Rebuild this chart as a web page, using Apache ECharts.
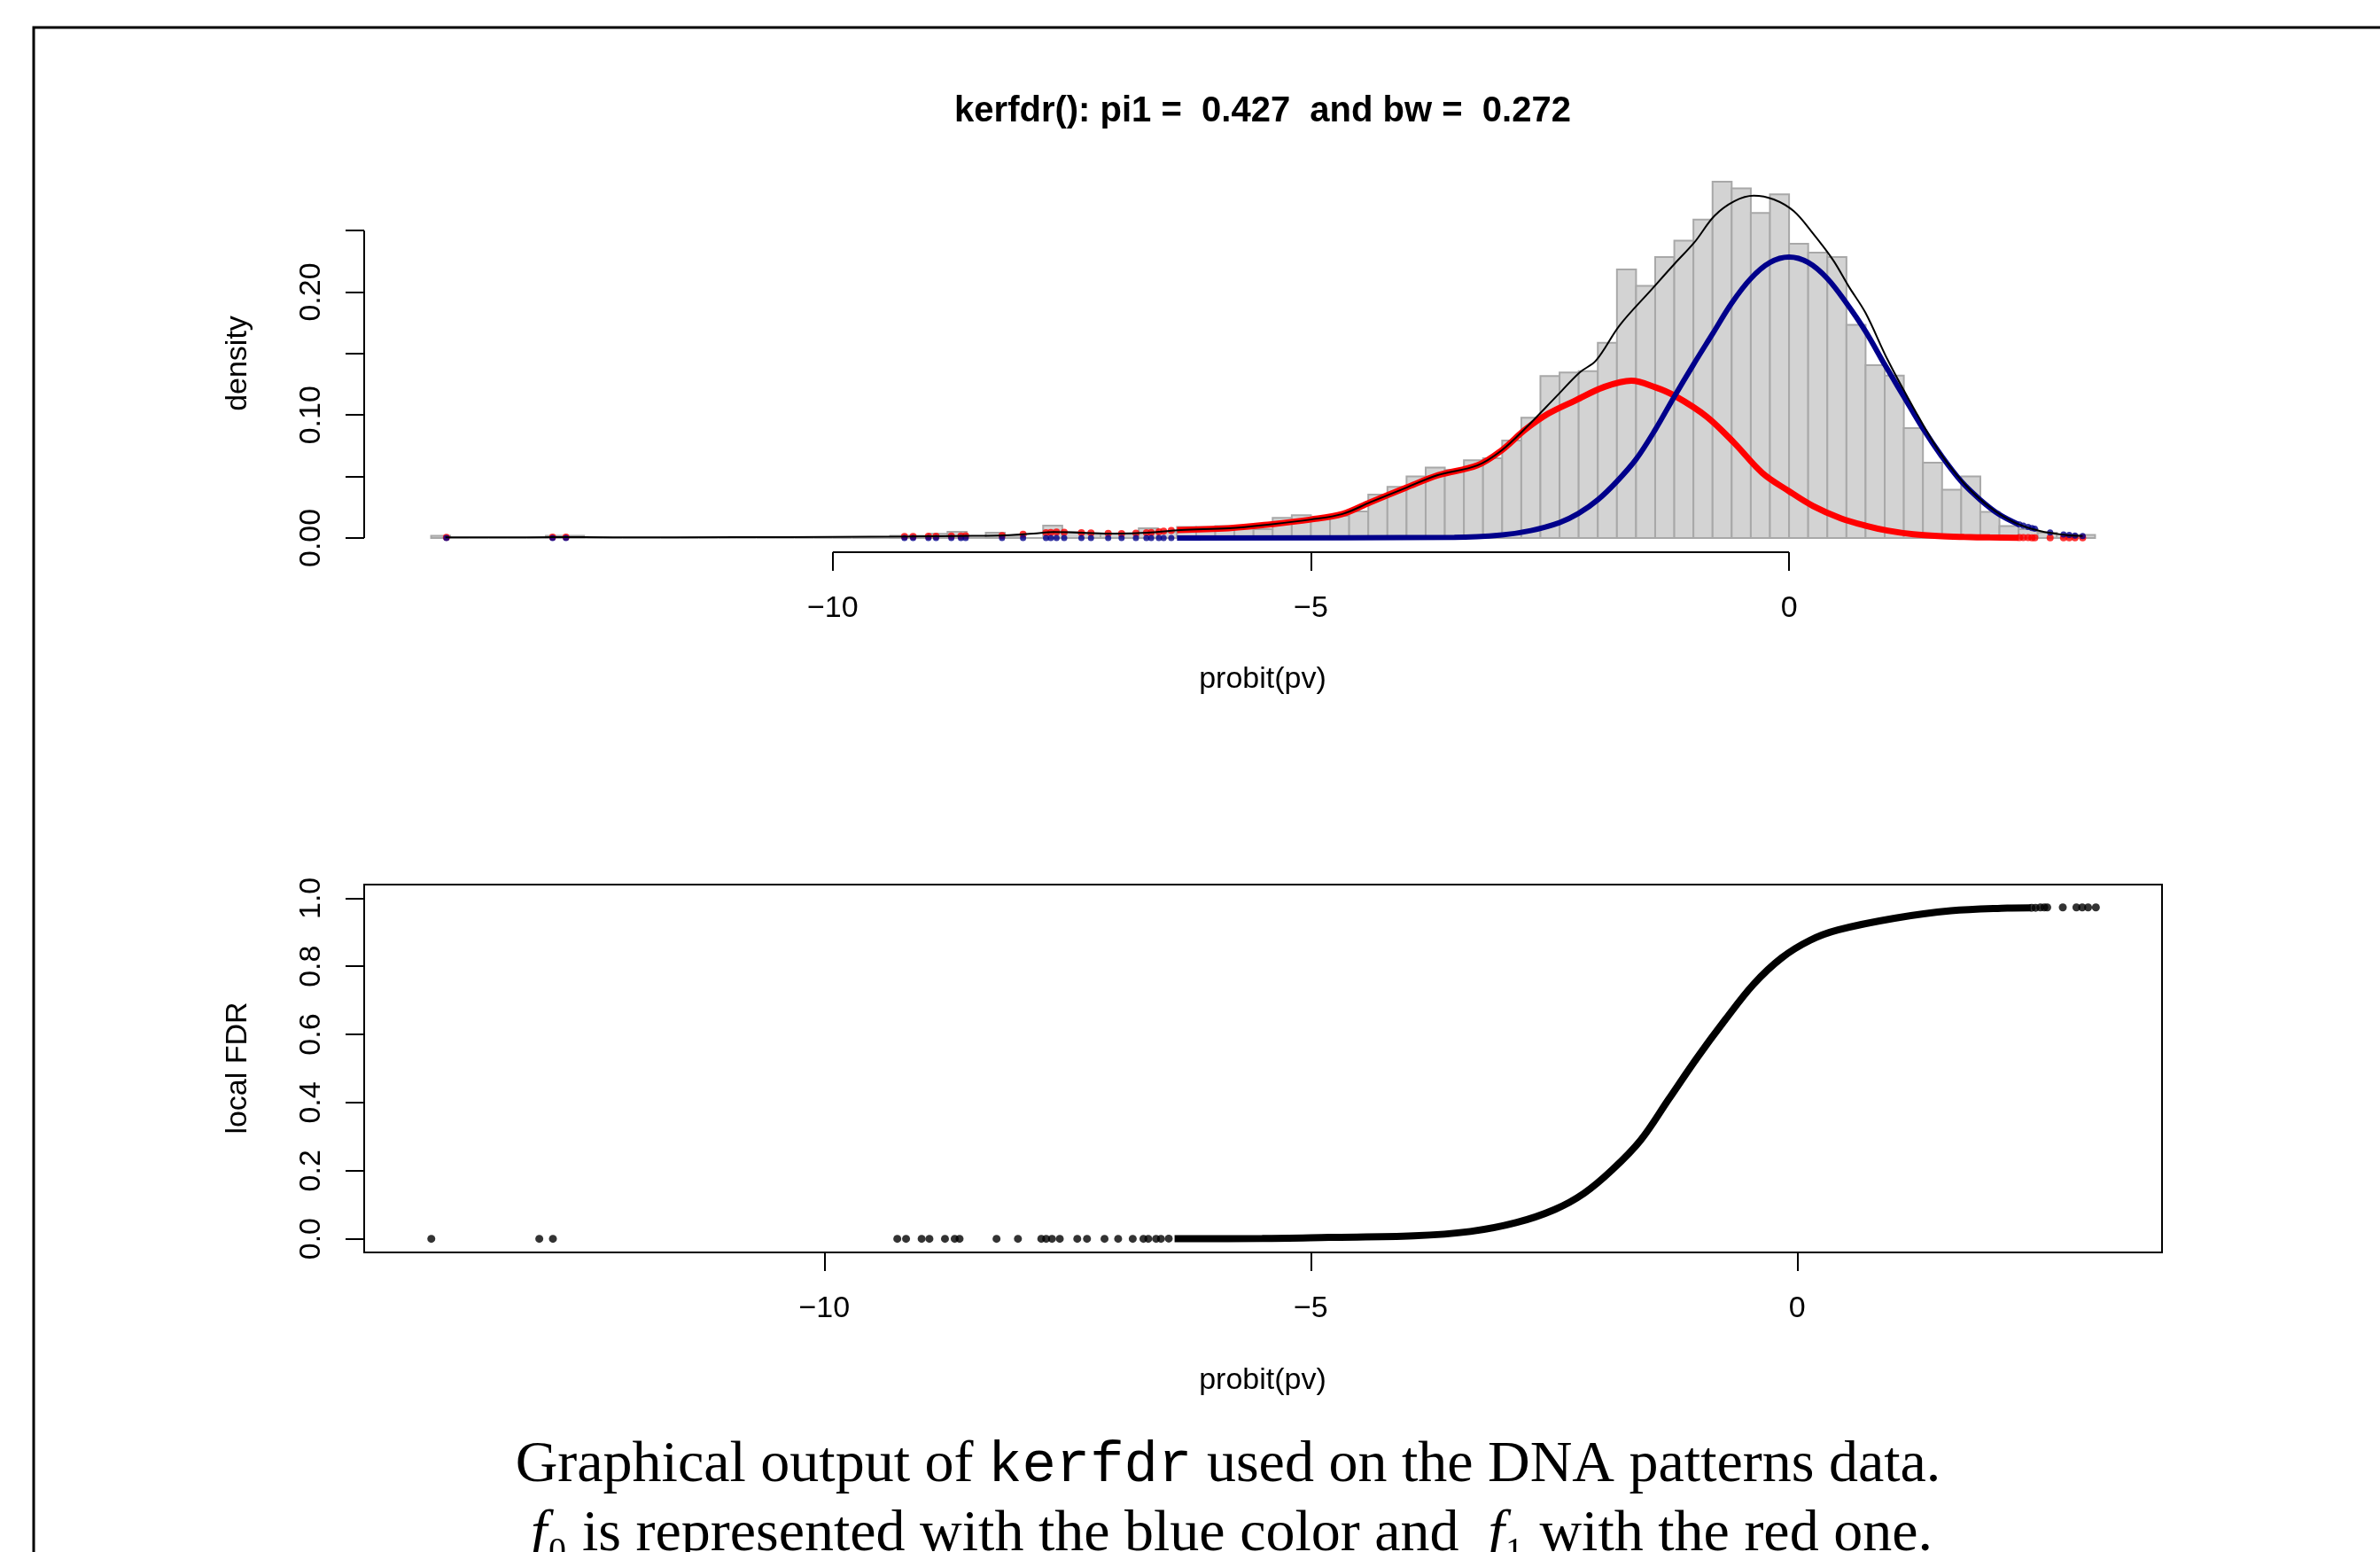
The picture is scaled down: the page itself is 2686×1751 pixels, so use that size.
<!DOCTYPE html>
<html>
<head>
<meta charset="utf-8">
<script src="https://cdn.jsdelivr.net/npm/echarts/dist/echarts.min.js"></script>
<style>
html,body{margin:0;padding:0;background:#fff;}
#chart{width:2686px;height:1751px;}
</style>
</head>
<body>
<div id="chart"></div>
<script>
// ---------------- data ----------------
var titleText = 'kerfdr(): pi1 =  0.427  and bw =  0.272';
var xTicks = [-10, -5, 0];
var densityTicks = [0, 0.05, 0.10, 0.15, 0.20, 0.25];
var densityLabels = [0, 0.10, 0.20];
var fdrTicks = [0, 0.2, 0.4, 0.6, 0.8, 1.0];

var histStart = -14.2;
var histBinWidth = 0.2;
var histDensity = [
  0.0017, 0, 0, 0, 0, 0, 0.0017, 0.0017, 0, 0,
  0, 0, 0, 0, 0, 0, 0, 0, 0, 0,
  0, 0, 0, 0, 0.0017, 0.0017, 0.0034, 0.0050, 0, 0.0043,
  0.0017, 0, 0.0101, 0.0050, 0.0034, 0.0034, 0.0034, 0.0079, 0.0048, 0.0089,
  0.0089, 0.0096, 0.0077, 0.0072, 0.0163, 0.0185, 0.0170, 0.0180, 0.0216, 0.0353,
  0.0416, 0.0500, 0.0572, 0.0553, 0.0632, 0.0649, 0.0793, 0.0978, 0.1317, 0.1346,
  0.1356, 0.1587, 0.2183, 0.2051, 0.2284, 0.2419, 0.2589, 0.2897, 0.2844, 0.2644,
  0.2794, 0.2392, 0.2320, 0.2284, 0.1734, 0.1406, 0.1320, 0.0894, 0.0613, 0.0392,
  0.0500, 0.0212, 0.0096, 0.0072, 0.0043, 0.0029, 0.0024
];

// mixture density f (black line)
var fX = [-14.05,-13.5,-12.9,-12.3,-11.0,-10.0,-9.2,-8.7,-8.26,-7.9,-7.69,-7.4,-7.06,-6.71,-6.36,-5.86,-5.43,-5.0,-4.67,-4.38,-4.0,-3.68,-3.26,-3.01,-2.76,-2.43,-2.19,-2.02,-1.77,-1.44,-1.19,-0.99,-0.78,-0.57,-0.37,-0.16,0.05,0.25,0.46,0.625,0.8,1.03,1.3,1.56,1.83,2.1,2.36,2.63,2.89,3.07];
var fY = [0.0005,0.0004,0.0007,0.0005,0.0006,0.0008,0.0012,0.0016,0.0019,0.0036,0.0048,0.0043,0.0036,0.0043,0.0065,0.0079,0.0110,0.0150,0.0195,0.0290,0.0410,0.0510,0.0590,0.0710,0.0890,0.1154,0.1346,0.1442,0.1731,0.2019,0.2236,0.2404,0.2620,0.2740,0.2784,0.2753,0.2657,0.2476,0.2260,0.2044,0.1830,0.1450,0.1060,0.0715,0.0443,0.0250,0.0125,0.0055,0.0025,0.0015];

// pi1*f1 (red), dense part
var f1X = [-6.4,-5.86,-5.43,-5.0,-4.67,-4.38,-4.0,-3.67,-3.26,-3.01,-2.76,-2.52,-2.23,-1.94,-1.65,-1.40,-1.19,-0.86,-0.57,-0.28,0.0,0.25,0.54,0.8,1.03,1.3,1.56,1.83,2.1,2.4];
var f1Y = [0.0065,0.0079,0.0110,0.0150,0.0195,0.0290,0.0410,0.0510,0.0590,0.0710,0.0880,0.1010,0.1120,0.1226,0.1279,0.1226,0.1154,0.0986,0.0770,0.0529,0.0380,0.0260,0.0160,0.0100,0.0060,0.0030,0.0015,0.0008,0.0004,0.0002];

// pi0*f0 (blue), dense part
var f0X = [-6.4,-3.5,-3.0,-2.7,-2.4,-2.2,-2.0,-1.8,-1.6,-1.4,-1.2,-1.0,-0.8,-0.6,-0.4,-0.2,0.0,0.2,0.4,0.6,0.8,1.0,1.2,1.4,1.6,1.8,2.0,2.2,2.4];
var f0Y = [0,0.0005,0.0025,0.0060,0.0125,0.0200,0.0310,0.0460,0.0640,0.0880,0.1150,0.1410,0.1660,0.1910,0.2110,0.2240,0.2284,0.2240,0.2110,0.1910,0.1680,0.1410,0.1150,0.0890,0.0660,0.0460,0.0310,0.0190,0.0110];

// isolated observations in the tails
var leftObsX = [-14.04,-12.93,-12.79,-9.25,-9.16,-9.0,-8.92,-8.76,-8.66,-8.61,-8.23,-8.01,-7.77,-7.72,-7.66,-7.58,-7.4,-7.3,-7.12,-6.98,-6.83,-6.72,-6.67,-6.59,-6.54,-6.46];
var leftObsF1 = [0.0005,0.0007,0.0007,0.0012,0.0012,0.0013,0.0014,0.0016,0.0016,0.0017,0.0019,0.0030,0.0042,0.0045,0.0048,0.0047,0.0043,0.0041,0.0037,0.0036,0.0040,0.0043,0.0045,0.0050,0.0055,0.0060];
var leftObsF0 = [0,0,0,0,0,0,0,0,0,0,0,0,0,0,0,0,0,0,0,0,0,0,0,0,0,0];
var leftObsFdr = [0,0,0,0,0,0,0,0,0,0,0,0,0,0,0,0,0,0,0,0,0,0,0,0,0,0.0005];
var rightObsX = [2.41,2.45,2.5,2.54,2.57,2.73,2.87,2.93,2.99,3.07];
var rightObsF1 = [0.0003,0.0003,0.0003,0.0002,0.0002,0.0002,0.0001,0.0001,0.0001,0.0001];
var rightObsF0 = [0.0110,0.0100,0.0090,0.0080,0.0075,0.0045,0.0028,0.0024,0.0019,0.0015];
var rightObsFdr = [0.972,0.972,0.973,0.973,0.973,0.973,0.973,0.973,0.973,0.973];

// local FDR, dense part
var fdrX = [-6.4,-5.5,-4.81,-3.94,-3.36,-2.89,-2.49,-2.19,-1.90,-1.61,-1.32,-1.03,-0.74,-0.45,-0.16,0.13,0.42,1.0,1.58,2.16,2.4];
var fdrY = [0.0005,0.001,0.004,0.0085,0.0215,0.0474,0.0863,0.1337,0.2028,0.2891,0.41,0.531,0.643,0.747,0.8246,0.876,0.9067,0.941,0.963,0.971,0.972];

// ---------------- build ----------------
function zip(a, b) { return a.map(function (v, i) { return [v, b[i]]; }); }
var histData = histDensity.map(function (d, i) {
  return [histStart + histBinWidth * i, histStart + histBinWidth * (i + 1), d];
});
var topXMin = -14.9, topXMax = 3.9;
var botXMin = -14.73, botXMax = 3.75;
var topYMax = 0.2897 * 1.04, topYMin = -0.2897 * 0.04;
var minus = function (v) { return String(v).replace('-', '\u2212'); };
var FONT = 'Liberation Sans, Arial, Helvetica, sans-serif';
var SERIF = 'Liberation Serif, Times New Roman, serif';
var MONO = 'Liberation Mono, Courier New, monospace';
var black = '#000';

var chart = echarts.init(document.getElementById('chart'), null, {renderer: 'canvas'});
var grids = [
  {left: 411, right: 246, top: 189, height: 434, containLabel: false},
  {left: 411, right: 246, top: 998, height: 415, containLabel: false, show: true, borderColor: black, borderWidth: 2}
];
function xAxisCfg(idx, min, max) {
  return {
    type: 'value', gridIndex: idx, min: min, max: max,
    axisLine: {show: false, onZero: false},
    splitLine: {show: false},
    axisTick: {show: true, customValues: xTicks, length: 21, lineStyle: {color: black, width: 2}},
    axisLabel: {show: true, customValues: xTicks, formatter: minus, fontSize: 34, fontFamily: FONT, color: black, margin: 47}
  };
}
function yAxisCfg(idx, min, max, ticks, labels, digits) {
  return {
    type: 'value', gridIndex: idx, min: min, max: max,
    axisLine: {show: false, onZero: false},
    splitLine: {show: false},
    axisTick: {show: true, customValues: ticks, length: 21, lineStyle: {color: black, width: 2}},
    axisLabel: {show: true, customValues: labels, rotate: 90, fontSize: 34, fontFamily: FONT, color: black, margin: 42,
      formatter: function (v) { return Number(v).toFixed(digits); }}
  };
}

var option = {
  animation: false,
  backgroundColor: '#fff',
  grid: grids,
  xAxis: [xAxisCfg(0, topXMin, topXMax), xAxisCfg(1, botXMin, botXMax)],
  yAxis: [yAxisCfg(0, topYMin, topYMax, densityTicks, densityLabels, 2),
          yAxisCfg(1, -0.04, 1.04, fdrTicks, fdrTicks, 1)],
  series: [
    {
      type: 'custom', xAxisIndex: 0, yAxisIndex: 0, data: histData, silent: true,
      renderItem: function (params, api) {
        var p0 = api.coord([api.value(0), 0]);
        var p1 = api.coord([api.value(1), api.value(2)]);
        if (api.value(2) === 0) {
          return {type: 'line', shape: {x1: p0[0], y1: p0[1], x2: p1[0], y2: p0[1]}, style: {stroke: '#AAAAAA', lineWidth: 2}};
        }
        return {type: 'rect', shape: {x: p0[0], y: p1[1], width: p1[0] - p0[0], height: p0[1] - p1[1]},
                style: {fill: '#D3D3D3', stroke: '#A8A8A8', lineWidth: 2}};
      }
    },
    {type: 'line', xAxisIndex: 0, yAxisIndex: 0, data: zip(f1X, f1Y), smooth: 0.35, showSymbol: false, symbol: 'none',
     lineStyle: {color: '#FF0000', width: 7}, silent: true, z: 3},
    {type: 'scatter', xAxisIndex: 0, yAxisIndex: 0, data: zip(leftObsX, leftObsF1).concat(zip(rightObsX, rightObsF1)),
     symbol: 'circle', symbolSize: 8, itemStyle: {color: '#FF0000'}, silent: true, z: 3},
    {type: 'line', xAxisIndex: 0, yAxisIndex: 0, data: zip(f0X, f0Y), smooth: 0.35, showSymbol: false, symbol: 'none',
     lineStyle: {color: '#00008B', width: 6}, silent: true, z: 4},
    {type: 'scatter', xAxisIndex: 0, yAxisIndex: 0, data: zip(leftObsX, leftObsF0).concat(zip(rightObsX, rightObsF0)),
     symbol: 'circle', symbolSize: 7, itemStyle: {color: '#00008B'}, silent: true, z: 4},
    {type: 'line', xAxisIndex: 0, yAxisIndex: 0, data: zip(fX, fY), smooth: 0.35, showSymbol: false, symbol: 'none',
     lineStyle: {color: black, width: 2}, silent: true, z: 5},
    // axis lines spanning first to last tick (R style)
    {type: 'line', xAxisIndex: 0, yAxisIndex: 0, clip: false, silent: true, symbol: 'none',
     data: [[xTicks[0], topYMin], [xTicks[xTicks.length - 1], topYMin]], lineStyle: {color: black, width: 2}, z: 6},
    {type: 'line', xAxisIndex: 0, yAxisIndex: 0, clip: false, silent: true, symbol: 'none',
     data: [[topXMin, densityTicks[0]], [topXMin, densityTicks[densityTicks.length - 1]]], lineStyle: {color: black, width: 2}, z: 6},
    // local FDR
    {type: 'line', xAxisIndex: 1, yAxisIndex: 1, data: zip(fdrX, fdrY), smooth: 0.35, showSymbol: false, symbol: 'none',
     lineStyle: {color: black, width: 8}, silent: true},
    {type: 'scatter', xAxisIndex: 1, yAxisIndex: 1, data: zip(leftObsX, leftObsFdr).concat(zip(rightObsX, rightObsFdr)),
     symbol: 'circle', symbolSize: 9, itemStyle: {color: black}, silent: true}
  ],
  graphic: [
    {type: 'polyline', shape: {points: [[38, 1751], [38, 31], [2686, 31]]}, style: {stroke: black, lineWidth: 3, fill: null}, silent: true},
    {type: 'text', x: 1425, y: 126, style: {text: titleText, fontSize: 40, fontWeight: 'bold', fontFamily: FONT, fill: black, textAlign: 'center', textVerticalAlign: 'middle'}},
    {type: 'text', x: 1425, y: 767, style: {text: 'probit(pv)', fontSize: 34, fontFamily: FONT, fill: black, textAlign: 'center', textVerticalAlign: 'middle'}},
    {type: 'text', x: 1425, y: 1558, style: {text: 'probit(pv)', fontSize: 34, fontFamily: FONT, fill: black, textAlign: 'center', textVerticalAlign: 'middle'}},
    {type: 'text', x: 269, y: 410, rotation: Math.PI / 2, style: {text: 'density', fontSize: 34, fontFamily: FONT, fill: black, textAlign: 'center', textVerticalAlign: 'middle'}},
    {type: 'text', x: 269, y: 1205, rotation: Math.PI / 2, style: {text: 'local FDR', fontSize: 34, fontFamily: FONT, fill: black, textAlign: 'center', textVerticalAlign: 'middle'}},
    {type: 'text', x: 1386, y: 1654, style: {
      text: '{s|Graphical output of }{m|kerfdr}{s| used on the DNA patterns data.}',
      textAlign: 'center', textVerticalAlign: 'middle',
      rich: {
        s: {fontSize: 66, fontFamily: SERIF, fill: black},
        m: {fontSize: 64, fontFamily: MONO, fill: black}
      }}},
    {type: 'text', x: 1390, y: 1732, style: {
      text: '{i|f}{s|\u2080 is represented with the blue color and  }{i|f}{s|\u2081 with the red one.}',
      textAlign: 'center', textVerticalAlign: 'middle',
      rich: {
        s: {fontSize: 66, fontFamily: SERIF, fill: black},
        i: {fontSize: 66, fontStyle: 'italic', fontFamily: SERIF, fill: black}
      }}}
  ]
};
chart.setOption(option);
</script>
</body>
</html>
